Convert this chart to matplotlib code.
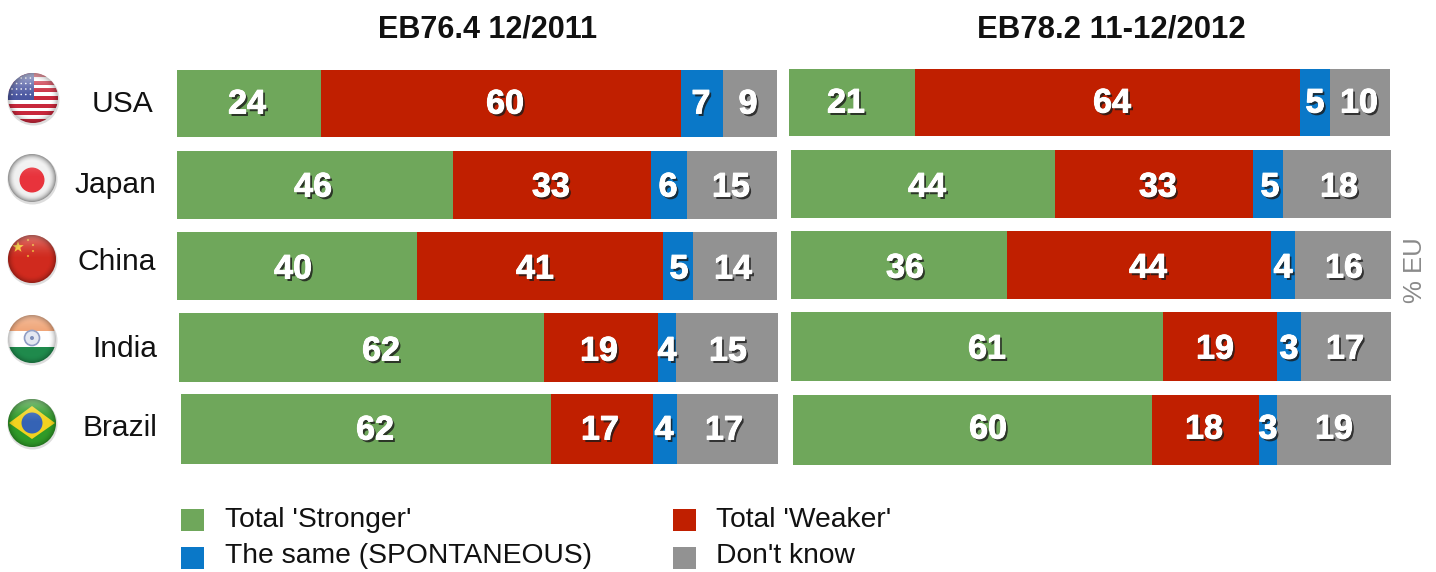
#!/usr/bin/env python3
# -*- coding: utf-8 -*-
"""Stacked bars, two survey waves side by side, with glossy round flags."""
import matplotlib
matplotlib.use('Agg')
import matplotlib.pyplot as plt
import matplotlib.patheffects as pe
from matplotlib.patches import Circle, Polygon, Rectangle
import numpy as np

countries = ['USA', 'Japan', 'China', 'India', 'Brazil']
waves = ['EB76.4 12/2011', 'EB78.2 11-12/2012']
series_names = ["Total 'Stronger'", "Total 'Weaker'", 'The same (SPONTANEOUS)', "Don't know"]

# bar lengths as drawn (the India rows of the source are drawn with the other wave's numbers)
stronger_2011 = [24, 46, 40, 61, 62]
weaker_2011 = [60, 33, 41, 19, 17]
same_2011 = [7, 6, 5, 3, 4]
dontknow_2011 = [9, 15, 14, 17, 17]

stronger_2012 = [21, 44, 36, 62, 60]
weaker_2012 = [64, 33, 44, 19, 18]
same_2012 = [5, 5, 4, 4, 3]
dontknow_2012 = [10, 18, 16, 15, 19]

# numbers as printed on the bars
labels_2011 = [[24, 60, 7, 9], [46, 33, 6, 15], [40, 41, 5, 14], [62, 19, 4, 15], [62, 17, 4, 17]]
labels_2012 = [[21, 64, 5, 10], [44, 33, 5, 18], [36, 44, 4, 16], [61, 19, 3, 17], [60, 18, 3, 19]]

GREEN, RED, BLUE, GREY = '#6FA75B', '#C01F00', '#0A78C8', '#929292'
colors = [GREEN, RED, BLUE, GREY]

W, H = 1436, 572
plt.rcParams['font.family'] = ['Liberation Sans', 'DejaVu Sans']

# pixel boxes of the bars (left, right, top, bottom), the source is slightly skewed
boxes_2011 = [(177, 777, 70, 137), (177, 777, 151, 219), (177, 777, 232, 300),
              (179, 778, 313, 382), (181, 778, 394, 464)]
boxes_2012 = [(789, 1390, 69, 136), (791, 1391, 150, 218), (791, 1391, 231, 299),
              (791, 1391, 312, 381), (793, 1391, 395, 465)]

# hand placed number positions in the source
label_x_2011 = [[247, 505, 701, 748], [313, 551, 668, 731], [293, 535, 679, 733],
                [381, 599, 667, 728], [375, 600, 664, 724]]
label_x_2012 = [[846, 1112, 1315, 1359], [927, 1158, 1270, 1339], [905, 1148, 1283, 1344],
                [987, 1215, 1289, 1345], [988, 1204, 1268, 1334]]
label_y_2011 = [105, 188, 270, 352, 431]
label_y_2012 = [104, 188, 269, 350, 430]

fig = plt.figure(figsize=(W / 100, H / 100), dpi=100, facecolor='white')
bg = fig.add_axes([0, 0, 1, 1])
bg.set_xlim(0, W)
bg.set_ylim(H, 0)
bg.axis('off')


def draw_row(box, values):
    l, r, t, b = box
    ax = fig.add_axes([l / W, 1 - b / H, (r - l) / W, (b - t) / H])
    ax.set_xlim(0, 100)
    ax.set_ylim(0, 1)
    ax.axis('off')
    left = 0
    for v, c in zip(values, colors):
        ax.barh(0.5, v, left=left, height=1, color=c, linewidth=0)
        left += v


data_2011 = list(zip(stronger_2011, weaker_2011, same_2011, dontknow_2011))
data_2012 = list(zip(stronger_2012, weaker_2012, same_2012, dontknow_2012))
for box, vals in zip(boxes_2011, data_2011):
    draw_row(box, vals)
for box, vals in zip(boxes_2012, data_2012):
    draw_row(box, vals)

# numbers go on an overlay above the bars
top = fig.add_axes([0, 0, 1, 1], facecolor='none')
top.set_xlim(0, W)
top.set_ylim(H, 0)
top.axis('off')
number_fx = [pe.withSimplePatchShadow(offset=(1.6, -1.8), shadow_rgbFace='#1a1a1a', alpha=0.8),
             pe.withStroke(linewidth=0.7, foreground='white')]
for labels, xs, ys in [(labels_2011, label_x_2011, label_y_2011), (labels_2012, label_x_2012, label_y_2012)]:
    for row, row_x, y in zip(labels, xs, ys):
        for v, x in zip(row, row_x):
            top.text(x, y, str(v), ha='center', va='center', color='white', fontsize=24.5,
                     fontweight='bold', path_effects=number_fx)

# titles
bg.text(488, 30, waves[0], ha='center', va='center', fontsize=22, fontweight='bold', color='#111111')
bg.text(1111, 29, waves[1], ha='center', va='center', fontsize=22.4, fontweight='bold', color='#111111')

# country names
name_pos = [(153, 104), (156, 185), (156, 262), (157, 349), (157, 428)]
for name, (x, y) in zip(countries, name_pos):
    bg.text(x, y, name, ha='right', va='center', fontsize=21.6, color='#111111')

bg.text(1415, 270, '% EU', rotation=90, ha='center', va='center', fontsize=18.5, color='#8a8a8a')


# flags
def flag_base(cx, cy, r, base):
    clip = Circle((cx, cy), r, transform=bg.transData)
    bg.add_patch(Circle((cx + 0.5, cy + 1.5), r + 1, facecolor='#dddddd', edgecolor='none', zorder=1))
    bg.add_patch(Circle((cx, cy), r, facecolor=base, edgecolor='none', zorder=2))
    return clip


def add_clipped(patch, clip, z=3):
    bg.add_patch(patch)
    patch.set_zorder(z)
    patch.set_clip_path(clip)


def gloss(cx, cy, r, clip, light=0.55, rim=0.25):
    # soft highlight fading down from the top, slight shade at the rim
    yy, xx = np.mgrid[-1:1:80j, -1:1:80j]
    img = np.ones((80, 80, 4))
    img[..., 3] = np.clip(-yy / 0.95, 0, 1) ** 1.5 * light
    im = bg.imshow(img, extent=(cx - r, cx + r, cy + r, cy - r), zorder=6, aspect='auto')
    im.set_clip_path(clip)
    dark = np.zeros((80, 80, 4))
    dark[..., 3] = np.clip((np.hypot(xx, yy) - 0.7) / 0.3, 0, 1) ** 2 * rim
    im = bg.imshow(dark, extent=(cx - r, cx + r, cy + r, cy - r), zorder=7, aspect='auto')
    im.set_clip_path(clip)


cx, cy, r = 33, 98, 25
c = flag_base(cx, cy, r, 'white')
for i in range(0, 13, 2):
    add_clipped(Rectangle((cx - r, cy - r + i * 2 * r / 13), 2 * r, 2 * r / 13,
                          facecolor='#C8283C', edgecolor='none'), c)
add_clipped(Rectangle((cx - r, cy - r), r * 1.05, r * 1.08, facecolor='#4A56A0', edgecolor='none'), c, 4)
for i in range(5):
    for j in range(4):
        add_clipped(Circle((cx - r + 4 + i * 4.6, cy - r + 5 + j * 5.5), 0.8, facecolor='white',
                           edgecolor='none'), c, 5)
gloss(cx, cy, r, c)

cx, cy, r = 32, 178, 24
c = flag_base(cx, cy, r, '#F0F0F0')
add_clipped(Circle((cx, cy + 2), 12.5, facecolor='#E8333C', edgecolor='none'), c)
gloss(cx, cy, r, c, light=0.35, rim=0.4)

cx, cy, r = 32, 259, 24
c = flag_base(cx, cy, r, '#D02A1E')
star = [(cx - 14 + (6 if k % 2 == 0 else 2.4) * np.sin(k * np.pi / 5),
         cy - 12 - (6 if k % 2 == 0 else 2.4) * np.cos(k * np.pi / 5)) for k in range(10)]
add_clipped(Polygon(star, facecolor='#F5C330', edgecolor='none'), c)
for dx, dy in [(-4, -19), (1, -14), (1, -8), (-4, -3)]:
    add_clipped(Circle((cx + dx, cy + dy), 1.1, facecolor='#E8A030', edgecolor='none'), c)
gloss(cx, cy, r, c, light=0.35, rim=0.3)

cx, cy, r = 32, 339, 24
c = flag_base(cx, cy, r, 'white')
add_clipped(Rectangle((cx - r, cy - r), 2 * r, r * 0.68, facecolor='#EFA070', edgecolor='none'), c)
add_clipped(Rectangle((cx - r, cy + r * 0.32), 2 * r, r, facecolor='#1F8A4C', edgecolor='none'), c)
add_clipped(Circle((cx, cy - 1), 7.5, facecolor='#E4E8F2', edgecolor='#8E9CC4', linewidth=1.2), c)
add_clipped(Circle((cx, cy - 1), 2, facecolor='#7C8CB8', edgecolor='none'), c)
gloss(cx, cy, r, c, light=0.3)

cx, cy, r = 32, 423, 24
c = flag_base(cx, cy, r, '#2F9A28')
add_clipped(Polygon([(cx - 23, cy), (cx, cy - 17), (cx + 23, cy), (cx, cy + 16)],
                    facecolor='#F2D21F', edgecolor='none'), c)
add_clipped(Circle((cx, cy), 10.5, facecolor='#3563B5', edgecolor='none'), c, 4)
gloss(cx, cy, r, c, light=0.4)

# legend
legend_pos = [(181, 509, 225, 520), (673, 509, 716, 520), (181, 547, 225, 556), (673, 547, 716, 556)]
for (sx, sy, tx, ty), name, col in zip(legend_pos, series_names, colors):
    bg.add_patch(Rectangle((sx, sy), 23, 22, facecolor=col, edgecolor='none'))
    bg.text(tx, ty, name, ha='left', va='center', fontsize=20.3, color='#111111')

fig.savefig('out.png', dpi=100)
plt.close()
